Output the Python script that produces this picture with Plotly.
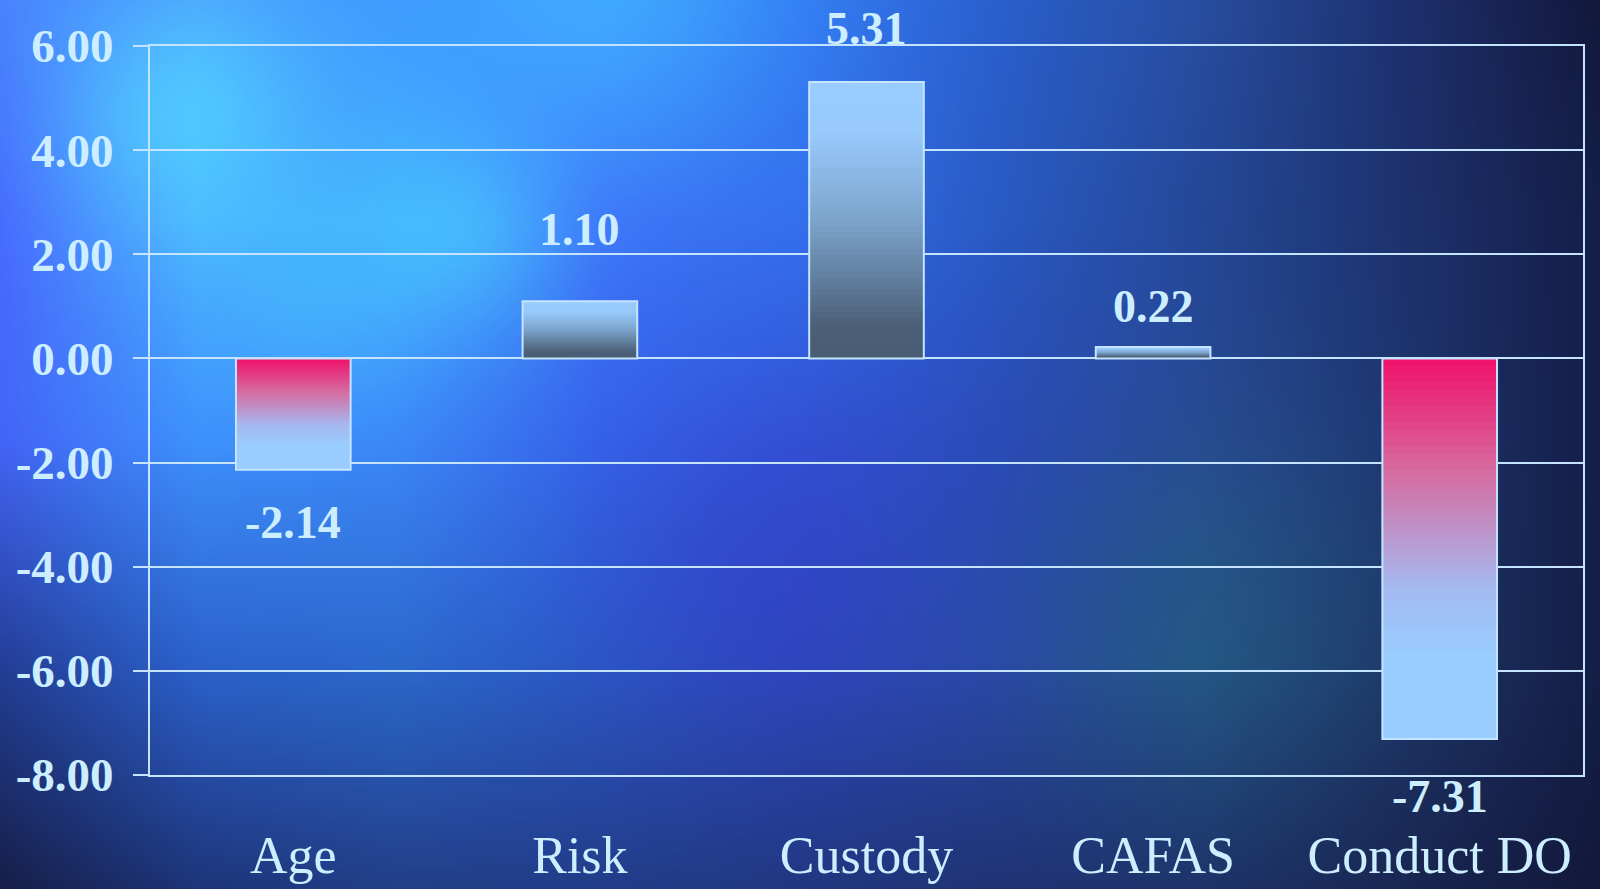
import base64
import struct
import zlib

import numpy as np
import plotly.graph_objects as go

# ---------------- data ----------------
categories = ["Age", "Risk", "Custody", "CAFAS", "Conduct DO"]
values = [-2.14, 1.10, 5.31, 0.22, -7.31]
value_labels = ["-2.14", "1.10", "5.31", "0.22", "-7.31"]
y_tick_values = [-8, -6, -4, -2, 0, 2, 4, 6]
y_tick_labels = ["-8.00", "-6.00", "-4.00", "-2.00", "0.00", "2.00", "4.00", "6.00"]

# ---------------- styles ----------------
W, H = 1600, 889
M_L, M_R, M_T, M_B = 150, 17, 46, 114
TEXT = "#cdeeff"
LINE = "#c4e4ff"
SERIF = "Liberation Serif, Times New Roman, serif"
LABEL_SHIFT = [-25, 44, 26, 13, -30]   # px offsets of the value labels

POS_STOPS = [(0.0, (153, 204, 255)), (0.18, (152, 202, 252)), (0.5, (124, 164, 204)),
             (0.88, (76, 96, 120)), (1.0, (72, 92, 115))]
NEG_STOPS = [(0.0, (240, 16, 106)), (0.3, (214, 108, 160)), (0.6, (165, 185, 240)),
             (0.78, (153, 204, 255)), (1.0, (153, 204, 255))]


def stop_color(stops, t):
    for (t0, c0), (t1, c1) in zip(stops[:-1], stops[1:]):
        if t <= t1:
            f = 0 if t1 == t0 else (t - t0) / (t1 - t0)
            c = [round(a + (b - a) * f) for a, b in zip(c0, c1)]
            return "rgb(%d,%d,%d)" % tuple(c)
    return "rgb(%d,%d,%d)" % stops[-1][1]


# ---------------- background image (decoration) ----------------
grid_x = [0, 200, 400, 600, 800, 1000, 1200, 1400, 1600]
grid_y = [0, 220, 440, 660, 889]
grid_c = np.array([
    [(72, 130, 255), (75, 160, 255), (62, 155, 255), (60, 160, 255), (52, 125, 245), (42, 95, 205), (40, 78, 160), (30, 48, 110), (18, 24, 58)],
    [(72, 105, 255), (75, 180, 255), (68, 170, 255), (62, 115, 250), (52, 112, 238), (42, 90, 195), (36, 72, 152), (30, 50, 110), (20, 30, 72)],
    [(68, 100, 248), (62, 145, 252), (60, 135, 248), (54, 100, 236), (50, 85, 215), (42, 75, 185), (40, 72, 150), (30, 52, 110), (20, 30, 72)],
    [(36, 62, 150), (44, 98, 205), (44, 105, 205), (44, 88, 198), (46, 72, 188), (42, 74, 168), (36, 84, 135), (30, 52, 104), (20, 30, 70)],
    [(22, 30, 70), (30, 52, 120), (34, 62, 135), (34, 60, 135), (34, 55, 128), (32, 50, 115), (30, 50, 105), (25, 38, 82), (18, 24, 58)],
], dtype=float)

IW, IH = 320, 178
px = (np.arange(IW) + 0.5) * W / IW
py = (np.arange(IH) + 0.5) * H / IH
fx = np.interp(px, grid_x, np.arange(len(grid_x)))
fy = np.interp(py, grid_y, np.arange(len(grid_y)))
ix0 = np.clip(np.floor(fx).astype(int), 0, len(grid_x) - 2)
iy0 = np.clip(np.floor(fy).astype(int), 0, len(grid_y) - 2)
tx = (fx - ix0)[None, :, None]
ty = (fy - iy0)[:, None, None]
c00 = grid_c[iy0][:, ix0]
c01 = grid_c[iy0][:, ix0 + 1]
c10 = grid_c[iy0 + 1][:, ix0]
c11 = grid_c[iy0 + 1][:, ix0 + 1]
img = (c00 * (1 - tx) * (1 - ty) + c01 * tx * (1 - ty) + c10 * (1 - tx) * ty + c11 * tx * ty)

blobs = [((180, 115), 80, (85, 225, 255), 0.55), ((460, 235), 70, (75, 215, 255), 0.5),
         ((320, 300), 70, (70, 200, 255), 0.35), ((620, 20), 100, (70, 190, 255), 0.35),
         ((1220, 580), 130, (35, 100, 125), 0.3), ((760, 560), 110, (52, 55, 200), 0.3)]
XX, YY = np.meshgrid(px, py)
for (cx, cy), r, col, s in blobs:
    w = s * np.exp(-((XX - cx) ** 2 + (YY - cy) ** 2) / (2 * r * r))[:, :, None]
    img = img * (1 - w) + np.array(col, dtype=float)[None, None, :] * w
img = np.clip(img, 0, 255).astype(np.uint8)


def to_png(a):
    h, w, _ = a.shape
    raw = b"".join(b"\x00" + a[r].tobytes() for r in range(h))

    def chunk(t, d):
        return struct.pack(">I", len(d)) + t + d + struct.pack(">I", zlib.crc32(t + d) & 0xFFFFFFFF)

    return (b"\x89PNG\r\n\x1a\n" + chunk(b"IHDR", struct.pack(">IIBBBBB", w, h, 8, 2, 0, 0, 0))
            + chunk(b"IDAT", zlib.compress(raw, 9)) + chunk(b"IEND", b""))


bg_src = "data:image/png;base64," + base64.b64encode(to_png(img)).decode()

# ---------------- figure ----------------
fig = go.Figure()
N = 48
BAR_W = 0.4
for k in range(N):
    f_end = (N - k) / N
    f_mid = (N - k - 0.5) / N
    cols = []
    for v in values:
        if v >= 0:
            cols.append(stop_color(POS_STOPS, 1 - f_mid))
        else:
            cols.append(stop_color(NEG_STOPS, f_mid))
    fig.add_trace(go.Bar(
        x=categories, y=[v * f_end for v in values], width=BAR_W,
        marker=dict(color=cols, line=dict(width=0)), opacity=1,
        hoverinfo="skip", showlegend=False))

fig.add_trace(go.Bar(
    x=categories, y=values, width=BAR_W,
    marker=dict(color="rgba(0,0,0,0)", line=dict(color=LINE, width=2)),
    showlegend=False, hovertemplate="%{x}: %{y:.2f}<extra></extra>"))

for cat, v, lab, sh in zip(categories, values, value_labels, LABEL_SHIFT):
    fig.add_annotation(
        x=cat, y=v, text="<b>%s</b>" % lab, showarrow=False,
        yanchor="bottom" if v >= 0 else "top", yshift=sh,
        font=dict(family=SERIF, size=46, color=TEXT))

PW = W - M_L - M_R
PH = H - M_T - M_B
fig.update_layout(
    width=W, height=H,
    margin=dict(l=M_L, r=M_R, t=M_T, b=M_B, pad=0, autoexpand=False),
    barmode="overlay",
    paper_bgcolor="#24338a",
    plot_bgcolor="rgba(0,0,0,0)",
    images=[dict(source=bg_src, xref="paper", yref="paper",
                 x=-(M_L + 4) / PW, y=1 + (M_T + 4) / PH,
                 sizex=(W + 8) / PW, sizey=(H + 8) / PH,
                 xanchor="left", yanchor="top", sizing="stretch", layer="below")],
    xaxis=dict(showline=True, mirror=True, linecolor=LINE, linewidth=2,
               showgrid=False, ticks="", ticklabelstandoff=34, automargin=False,
               tickfont=dict(family=SERIF, size=52, color=TEXT)),
    yaxis=dict(range=[-8, 6], tickvals=y_tick_values, ticktext=y_tick_labels,
               showline=True, mirror=True, linecolor=LINE, linewidth=2,
               showgrid=True, gridcolor=LINE, gridwidth=2, zeroline=False,
               ticks="outside", ticklen=15, tickwidth=2, tickcolor=LINE,
               ticklabelstandoff=10, automargin=False,
               tickfont=dict(family=SERIF, size=47, color=TEXT, weight="bold")),
)

fig.write_html("out.html")
